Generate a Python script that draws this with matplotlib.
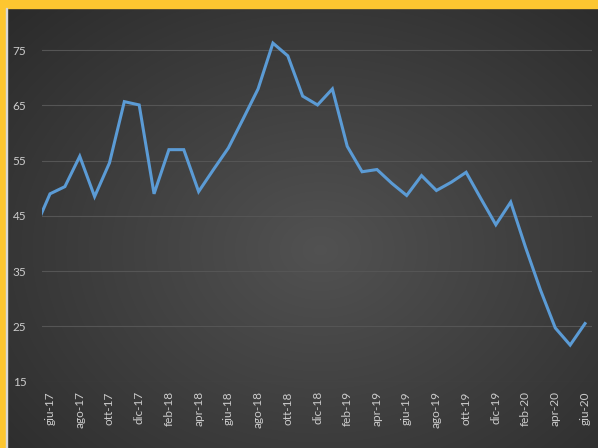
import numpy as np
import matplotlib.pyplot as plt
from matplotlib.patches import Rectangle

# monthly values, May 2017 - June 2020 (first point is clipped by the axis)
months = ["mag-17", "giu-17", "lug-17", "ago-17", "set-17", "ott-17", "nov-17", "dic-17",
          "gen-18", "feb-18", "mar-18", "apr-18", "mag-18", "giu-18", "lug-18", "ago-18",
          "set-18", "ott-18", "nov-18", "dic-18", "gen-19", "feb-19", "mar-19", "apr-19",
          "mag-19", "giu-19", "lug-19", "ago-19", "set-19", "ott-19", "nov-19", "dic-19",
          "gen-20", "feb-20", "mar-20", "apr-20", "mag-20", "giu-20"]
pun = [42.8, 49.0, 50.3, 55.8, 48.5, 54.6, 65.7, 65.1,
       49.0, 57.0, 57.0, 49.4, 53.4, 57.3, 62.6, 68.0,
       76.3, 74.0, 66.7, 65.1, 68.0, 57.6, 53.0, 53.4,
       50.9, 48.7, 52.3, 49.6, 51.1, 52.9, 48.1, 43.4,
       47.5, 39.3, 31.6, 24.7, 21.6, 25.5]
y_ticks = [15, 25, 35, 45, 55, 65, 75]
title = "PUN"


def main():
    plt.rcParams['font.family'] = ['Lato', 'DejaVu Sans']
    fig = plt.figure(figsize=(5.98, 4.48), dpi=100)

    # dark radial gradient background
    bg = fig.add_axes([0, 0, 1, 1], zorder=-10)
    yy, xx = np.mgrid[0:448, 0:598]
    r = np.sqrt(((xx - 320) / 430.0) ** 2 + ((yy - 250) / 340.0) ** 2)
    shade = 0.32 - 0.15 * np.clip(r, 0, 1)
    bg.imshow(np.dstack([shade] * 3), aspect='auto', extent=[0, 1, 0, 1])
    bg.set_axis_off()

    ax = fig.add_axes([41.7 / 598, 1 - 381.5 / 448, 550 / 598, 358.8 / 448])
    ax.patch.set_alpha(0)
    x = np.arange(len(pun))
    ax.plot(x, pun, color='#5b9bd5', linewidth=2.2, solid_joinstyle='miter')
    ax.set_xlim(0.44, 37.45)
    ax.set_ylim(15, 80)

    ax.set_yticks(y_ticks)
    ax.set_xticks(x[1::2])
    ax.set_xticklabels(months[1::2], rotation=90)
    ax.tick_params(length=0, colors='#cccccc', labelsize=8.5)
    ax.tick_params(axis='y', pad=11)
    ax.tick_params(axis='x', pad=7)
    ax.grid(axis='y', color='#555555', linewidth=0.8)
    for s in ax.spines.values():
        s.set_visible(False)

    # title, mostly hidden under the yellow frame
    fig.text(0.505, 1 - 11 / 448, title, color='white', fontsize=14,
             fontweight='bold', ha='center', va='bottom')

    # yellow frame on top and left
    fig.patches.append(Rectangle((0, 1 - 8 / 448), 1, 8 / 448, transform=fig.transFigure,
                                 color='#fdc630', zorder=10))
    fig.patches.append(Rectangle((0, 0), 6 / 598, 1, transform=fig.transFigure,
                                 color='#fdc630', zorder=10))
    fig.patches.append(Rectangle((6 / 598, 0), 1.2 / 598, 1 - 8 / 448, transform=fig.transFigure,
                                 color='#d8d8d8', zorder=10))

    fig.savefig("out.png", dpi=100)


if __name__ == '__main__':
    main()
